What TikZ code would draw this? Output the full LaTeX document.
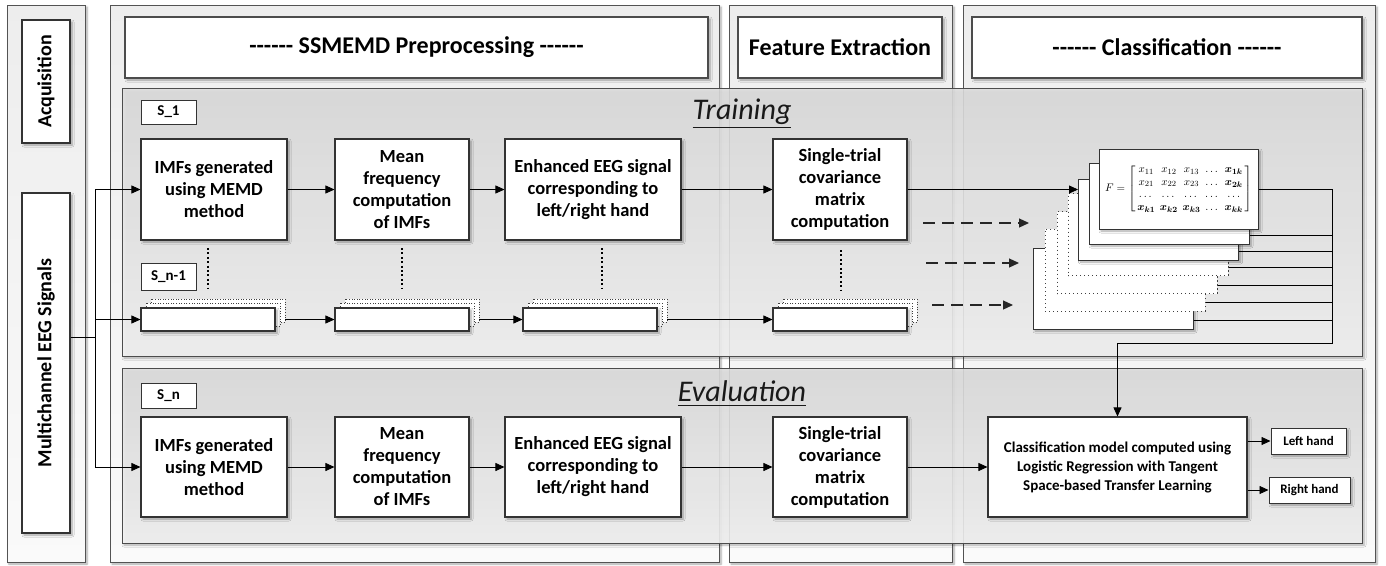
\documentclass[tikz,border=0pt]{standalone}
\usepackage{amsmath}
\usepackage{fontspec}
\setmainfont{Carlito}
\usetikzlibrary{arrows.meta,shadows.blur}

% a run of plain hyphens (kerns keep them from turning into dashes)
\newcommand\hyrun{-\kern0pt-\kern0pt-\kern0pt-\kern0pt-\kern0pt-}

% thin placeholder box with two dotted copies stacked behind it
\newcommand\stackbox[2]{%
  \node[ghost, minimum width=134pt, minimum height=23pt] (#1b) at ({#2+10},310.5) {};
  \node[ghost, minimum width=134pt, minimum height=23pt] (#1a) at ({#2+5},314.5) {};
  \node[proc,  minimum width=134pt, minimum height=23pt] (#1) at (#2,319.5) {};}

\begin{document}
\begin{tikzpicture}[x=1pt,y=-1pt,
  shade/.style={blur shadow={shadow xshift=2pt, shadow yshift=-2pt,
      shadow blur radius=2pt, shadow blur steps=6, shadow opacity=35}},
  panel/.style={draw=gray!65!black, line width=0.9pt, top color=gray!14,
      bottom color=gray!4, shade},
  stage/.style={draw=gray!60!black, line width=1pt, top color=gray!25,
      bottom color=gray!8, fill opacity=0.88, shade},
  header/.style={draw=black!70, line width=1.1pt, fill=white, shade,
      font=\fontsize{24}{28}\selectfont\bfseries},
  proc/.style={draw=black!80, line width=1.1pt, fill=white, shade, align=center,
      inner sep=0pt, font=\fontsize{18.5}{22}\selectfont\bfseries},
  tag/.style={draw=black!80, line width=1pt, fill=white, minimum width=55pt,
      inner sep=0pt, font=\fontsize{15}{18}\selectfont\bfseries},
  sidebox/.style={draw=black!80, line width=1.1pt, fill=white, shade, rotate=90,
      inner sep=0pt, minimum height=48pt, font=\fontsize{20}{24}\selectfont\bfseries},
  ghost/.style={draw=black!75, dash pattern=on 1pt off 1.6pt, line width=0.9pt, fill=white},
  layer/.style={draw=black!80, line width=1pt, fill=white, shade,
      minimum width=160pt, minimum height=81pt, inner sep=0pt},
  dlayer/.style={draw=black!75, dash pattern=on 1.2pt off 2.8pt, line width=1pt,
      fill=white, minimum width=160pt, minimum height=82pt, inner sep=0pt},
  result/.style={draw=black!80, line width=1pt, fill=white, shade, inner sep=0pt,
      minimum height=26pt, font=\fontsize{13}{15}\selectfont\bfseries},
  stagetitle/.style={font=\fontsize{30}{34}\selectfont\itshape, text=black!90},
  arrow/.style={line width=0.8pt, -{Triangle[length=9pt,width=8pt]}},
  link/.style={line width=0.8pt},
  dasharrow/.style={line width=1.2pt, black!85, dash pattern=on 12pt off 7pt,
      -{Triangle[length=10pt,width=9pt]}},
  contdots/.style={line width=2.6pt, dash pattern=on 2pt off 2.4pt}]

\useasboundingbox (0,0) rectangle (1386,565);

% column panels
\node[panel, minimum width=78pt,  minimum height=557pt] (pacq)  at (46,283.5) {};
\node[panel, minimum width=609pt, minimum height=557pt] (ppre)  at (414.5,283.5) {};
\node[panel, minimum width=223pt, minimum height=557pt] (pfeat) at (840.5,283.5) {};
\node[panel, minimum width=412pt, minimum height=557pt] (pcls)  at (1169,283.5) {};

% column headers
\node[header, minimum width=583pt, minimum height=61pt] (hpre)  at (416.5,47.5) {\hyrun\ SSMEMD Preprocessing \hyrun};
\node[header, minimum width=204pt, minimum height=61pt] (hfeat) at (840,47.5) {Feature Extraction};
\node[header, minimum width=390pt, minimum height=61pt] (hcls)  at (1167,47.5) {\hyrun\ Classification \hyrun};

% acquisition column
\node[sidebox, minimum width=123pt] (acq) at (46,81.5) {Acquisition};
\node[sidebox, minimum width=340pt] (eeg) at (46,363) {Multichannel EEG Signals};

% training and evaluation stages
\node[stage, minimum width=1240pt, minimum height=268pt] (train) at (742,222) {};
\node[stage, minimum width=1240pt, minimum height=175pt] (eval)  at (742,455.5) {};
\node[stagetitle] (ttrain) at (742,114) {\underline{Training}};
\node[stagetitle] (teval)  at (742,394) {\underline{Evaluation}};

% subject tags
\node[tag, minimum height=24pt] (s1)  at (168.5,112) {S\_1};
\node[tag, minimum height=27pt] (sn1) at (168.5,276.5) {S\_n-1};
\node[tag, minimum height=25pt] (sn)  at (168.5,395.5) {S\_n};

% training pipeline
\node[proc, minimum width=146pt, minimum height=101pt] (tA) at (214,189.5) {IMFs generated\\using MEMD\\method};
\node[proc, minimum width=134pt, minimum height=101pt] (tB) at (402,189.5) {Mean\\frequency\\computation\\of IMFs};
\node[proc, minimum width=176pt, minimum height=101pt] (tC) at (593,189.5) {Enhanced EEG signal\\corresponding to\\left/right hand};
\node[proc, minimum width=134pt, minimum height=101pt] (tD) at (840,189.5) {Single-trial\\covariance\\matrix\\computation};

% subject n-1 placeholders
\stackbox{sA}{208}
\stackbox{sB}{402}
\stackbox{sC}{590}
\stackbox{sD}{840}

% evaluation pipeline
\node[proc, minimum width=146pt, minimum height=100pt] (eA) at (214,467) {IMFs generated\\using MEMD\\method};
\node[proc, minimum width=134pt, minimum height=100pt] (eB) at (402,467) {Mean\\frequency\\computation\\of IMFs};
\node[proc, minimum width=176pt, minimum height=100pt] (eC) at (593,467) {Enhanced EEG signal\\corresponding to\\left/right hand};
\node[proc, minimum width=134pt, minimum height=100pt] (eD) at (840,467) {Single-trial\\covariance\\matrix\\computation};

% stack of feature matrices
\node[layer]  (L7) at (1113,288.5) {};
\node[dlayer] (L6) at (1125,270) {};
\node[dlayer] (L5) at (1137,252.5) {};
\node[dlayer] (L4) at (1148,234.5) {};
\node[layer]  (L3) at (1158.5,219.5) {};
\node[layer]  (L2) at (1169,203.5) {};
\node[layer, minimum width=159pt, minimum height=80pt] (L1) at (1178.5,189) {};
\node[font=\fontsize{11}{12.5}\selectfont, inner sep=0pt] (mat) at (L1.center)
  {$\arraycolsep=2.4pt F=\left[\,\begin{matrix}
    x_{11} & x_{12} & x_{13} & \dots & \boldsymbol{x}_{\boldsymbol{1k}}\\
    x_{21} & x_{22} & x_{23} & \dots & \boldsymbol{x}_{\boldsymbol{2k}}\\
    \dots & \dots & \dots & \dots & \dots\\
    \boldsymbol{x}_{\boldsymbol{k1}} & \boldsymbol{x}_{\boldsymbol{k2}} & \boldsymbol{x}_{\boldsymbol{k3}} & \dots & \boldsymbol{x}_{\boldsymbol{kk}}
  \end{matrix}\,\right]$};

% classifier and outputs
\node[proc, minimum width=259pt, minimum height=100pt,
      font=\fontsize{15}{19}\selectfont\bfseries] (cls) at (1117.5,467)
  {Classification model computed using\\Logistic Regression with Tangent\\Space-based Transfer Learning};
\node[result, minimum width=75pt] (lh) at (1308.5,441) {Left hand};
\node[result, minimum width=81pt] (rh) at (1309.5,490) {Right hand};

% signal distribution
\coordinate (junc) at (95,337);
\draw[link] (eeg.south |- junc) -- (junc);
\draw[arrow] (junc) |- (tA.west);
\draw[arrow] (junc) |- (sA.west);
\draw[arrow] (junc) |- (eA.west);

% pipeline arrows
\draw[arrow] (tA) -- (tB);
\draw[arrow] (tB) -- (tC);
\draw[arrow] (tC) -- (tD);
\draw[arrow] (tD.east) -- (tD.east -| L3.west);
\draw[arrow] (sAb.east |- sA.east) -- (sB);
\draw[arrow] (sBb.east |- sB.east) -- (sC);
\draw[arrow] (sCb.east |- sC.east) -- (sD);
\draw[arrow] (eA) -- (eB);
\draw[arrow] (eB) -- (eC);
\draw[arrow] (eC) -- (eD);
\draw[arrow] (eD) -- (cls);
\draw[arrow] (cls.east |- lh) -- (lh);
\draw[arrow] (cls.east |- rh) -- (rh);

% continuation dots between subjects
\draw[contdots] (208,248) -- (208,289);
\draw[contdots] (402,248) -- (402,289);
\draw[contdots] (602,248) -- (602,289);
\draw[contdots] (841,250) -- (841,290);

% further subjects feeding the stack
\coordinate (d1s) at (923,223); \coordinate (d1e) at (1029,223);
\coordinate (d2s) at (926,263); \coordinate (d2e) at (1019,263);
\coordinate (d3s) at (932,305); \coordinate (d3e) at (1013,305);
\draw[dasharrow] (d1s) -- (d1e);
\draw[dasharrow] (d2s) -- (d2e);
\draw[dasharrow] (d3s) -- (d3e);

% collector bus from the matrices to the classifier
\coordinate (busT) at (1332,189);
\coordinate (busB) at (1332,343);
\draw[arrow] (L1.east) -- (busT) -- (busB) -| (cls.north);
\foreach \L in {L2,L3,L4,L5,L6,L7}
  \draw[link] ([yshift=9pt]\L.south east) -- ([yshift=9pt]\L.south east -| busT);
\end{tikzpicture}
\end{document}
